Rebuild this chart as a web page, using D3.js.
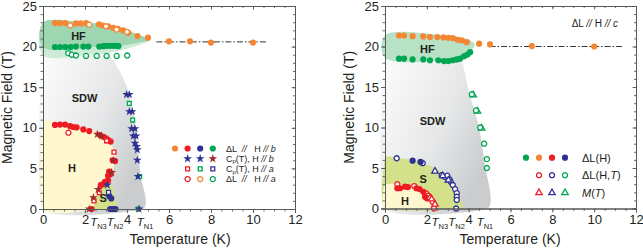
<!DOCTYPE html>
<html>
<head>
<meta charset="utf-8">
<script src="https://cdn.jsdelivr.net/npm/d3@7"></script>
<style>
body { margin: 0; background: #fff; }
text { font-family: "Liberation Sans", Arial, sans-serif; fill: #231f20; }
</style>
</head>
<body>
<svg id="chart" width="643" height="250"></svg>
<script>
'use strict';

// ---------- data: panel (a) H // b and H // a ----------
var xTicks = [0, 2, 4, 6, 8, 10, 12];
var yTicks = [0, 5, 10, 15, 20, 25];

var aOrangeFilled = [[0.57,22.9],[0.81,22.9],[1.06,22.9],[1.57,22.85],[1.8,22.85],[2.05,22.9],[2.67,22.75],[2.86,22.6],[3.1,22.5],[3.35,22.3],[3.57,22.2],[3.82,22.0],[4.06,21.7],[4.5,21.3],[5.0,21.1],[6.0,20.65],[7.0,20.65],[8.0,20.5],[10.0,20.5]];
var aOrangeOpen = [[1.3,22.6],[2.2,22.7],[3.0,22.5],[3.5,22.1],[4.0,21.8]];
var aGreenFilled = [[0.57,19.95],[0.81,19.95],[1.06,19.95],[1.32,19.95],[1.57,20.0],[1.92,20.0],[2.16,20.0],[2.68,20.0],[2.87,20.05],[3.03,20.1],[3.19,20.1],[3.35,20.1],[3.51,20.1],[3.59,20.05]];
var aGreenOpen = [[1.2,19.2],[1.37,19.0],[1.57,18.9],[2.05,18.85],[2.56,18.85],[3.03,18.85],[3.51,18.85],[4.01,18.9]];
var aRedFilled = [[0.57,10.35],[0.81,10.4],[1.05,10.4],[1.29,10.2],[1.44,10.1],[1.6,10.05],[1.92,9.8],[2.2,9.6],[2.71,9.1],[2.87,8.9],[3.0,8.7],[3.11,8.5],[3.22,8.3],[3.32,6.0],[3.43,5.9],[3.15,4.6],[3.22,4.3],[3.1,4.1],[3.1,3.5],[2.95,3.35],[2.85,3.05],[2.75,2.95],[2.32,0]];
var aRedOpen = [[1.21,9.4]];
var aRedStar = [[2.59,9.2],[2.79,9.0],[3.35,6.0],[3.27,4.5],[2.63,2.4],[2.4,1.4],[2.2,0]];
var aRedSquare = [[3.03,8.4],[3.38,7.0],[2.68,2.0],[2.43,1.0]];
var aBlueStar = [[3.98,14.1],[4.11,14.1],[4.11,12.0],[4.25,12.0],[4.22,9.9],[4.38,9.9],[4.3,9.0],[4.43,9.0],[4.38,8.1],[4.46,7.7],[4.49,7.3],[4.49,6.0],[4.52,4.0],[4.57,0],[3.06,2.95]];
var aBlueFilled = [[3.15,1.6],[3.25,1.3],[3.2,0],[3.35,0],[3.45,0]];
var aBlueSquare = [[3.12,2.05]];
var aGreenSquare = [[4.11,13.0],[4.27,10.95],[4.6,4.0],[4.54,0]];
var aDashT = [5.4, 10.7], aDashH = 20.58;

// regions of panel (a)
var aSDW = [[0,19],[1.5,18.9],[2.6,18.9],[3.2,18.8],[3.65,17],[4.0,15],[4.3,12],[4.5,8],[4.65,4],[4.75,0],[0,0]];
var aHF = [[0,22.95],[2,22.95],[3,22.75],[3.8,22.2],[4.5,21.5],[5.1,20.85],[4.6,20.2],[3.8,19.6],[3,19.15],[2,18.95],[0,18.95]];
var aHFdark = [[0,22.95],[2,22.95],[3,22.75],[3.8,22.2],[4.5,21.5],[5.1,20.85],[4.4,20.4],[3.6,20.05],[2.5,19.95],[0,19.95]];
var aH = [[0,10.45],[1,10.45],[2,10.05],[2.7,9.25],[3.15,8.4],[3.4,7],[3.4,5.5],[3.2,4],[2.9,3],[2.6,1.5],[2.4,0],[0,0]];
var aS = [[2.4,0],[2.6,1.5],[2.9,3],[3.15,3.1],[3.35,2.5],[3.45,1.2],[3.5,0]];

// ---------- data: panel (b) H // c ----------
var cOrangeFilled = [[0.67,21.36],[0.91,21.36],[1.32,21.28],[1.83,21.24],[2.15,21.16],[2.5,21.16],[2.79,21.12],[3.03,21.08],[3.24,21.04],[3.46,20.83],[3.67,20.75],[3.91,20.54],[4.5,20.35],[5.02,20.26],[7.02,20.05],[10.0,20.0]];
var cGreenFilled = [[0.67,18.5],[0.91,18.5],[1.32,18.4],[1.83,18.4],[2.15,18.3],[2.55,18.3],[2.82,18.2],[3.03,18.2],[3.24,18.3],[3.43,18.4],[3.59,18.5],[3.78,18.8],[3.94,19.0],[4.07,19.3]];
var cGreenOpen = [[4.15,14.1],[4.35,12.1],[4.55,10.0],[4.74,8.0],[4.87,6.1],[4.87,5.0]];
var cGreenTri = [[4.22,14.0],[4.42,12.0],[4.62,9.9]];
var cBlueFilled = [[1.32,5.9],[1.7,5.75]];
var cBlueOpen = [[0.56,6.2],[1.8,5.6],[2.71,4.1],[2.87,3.9],[2.98,4.05],[3.08,3.6],[3.14,3.3],[3.24,2.9],[3.35,2.4],[3.43,1.9],[3.43,1.45],[3.43,1.05],[3.4,0]];
var cBlueTri = [[2.39,4.6],[2.76,4.05],[3.03,3.5]];
var cRedFilled = [[0.59,2.5],[0.72,2.5],[0.96,2.7],[1.1,2.65],[1.5,2.5],[1.65,2.4],[1.83,2.07],[1.91,1.45],[2.0,1.26]];
var cRedOpen = [[0.59,3.0],[1.4,2.77],[1.96,1.87],[2.07,1.58],[2.28,0.84],[2.34,0]];
var cRedTri = [[2.15,1.33],[2.23,1.17],[2.39,0.52]];
var cDashT = [5.0, 11.4], cDashH = 20.0;

var cSDW = [[0,18.4],[2,18.3],[3.3,18.3],[3.7,18.0],[4.05,14],[4.5,10],[4.8,5],[4.9,0],[0,0]];
var cHF = [[0,21.4],[3,21.3],[3.8,21.0],[4.3,20.25],[3.9,19.1],[3.3,18.55],[0,18.6]];
var cS = [[0,6.2],[0.6,6.25],[1.5,5.95],[2.3,5.1],[2.9,4.2],[3.3,3.0],[3.5,1.8],[3.6,0],[0,0]];
var cH = [[0,2.95],[1,2.95],[1.6,2.6],[2.0,1.9],[2.3,1.0],[2.4,0],[0,0]];

var col = {orange: '#f58634', red: '#ed1c24', blue: '#2e3192', green: '#00a651', darkred: '#a3262a'};
var FONT = '"Liberation Sans", Arial, sans-serif';

var svg = d3.select('#chart');
var defs = svg.append('defs');
var grad = defs.append('linearGradient').attr('id', 'gray')
  .attr('x1', 0.05).attr('y1', 0.0).attr('x2', 1).attr('y2', 0.6);
grad.append('stop').attr('offset', '0%').attr('stop-color', '#fcfcfc');
grad.append('stop').attr('offset', '60%').attr('stop-color', '#e6e7e8');
grad.append('stop').attr('offset', '100%').attr('stop-color', '#cbcccd');

function makePanel(x0, x1, y0, y1) {
  var x = d3.scaleLinear().domain([0, 12]).range([x0, x1]);
  var y = d3.scaleLinear().domain([0, 25]).range([y0, y1]);
  var g = svg.append('g');
  return {x: x, y: y, g: g};
}

function region(p, pts, fill, curve) {
  var line = d3.line().x(function(d) { return p.x(d[0]); }).y(function(d) { return p.y(d[1]); })
    .curve(curve || d3.curveCatmullRomClosed.alpha(0.5));
  p.g.append('path').attr('d', line(pts)).attr('fill', fill).attr('stroke', 'none');
}

function marks(p, pts, shape, color, open) {
  var sel = p.g.append('g').selectAll('path').data(pts).enter().append('path')
    .attr('transform', function(d) { return 'translate(' + p.x(d[0]) + ',' + p.y(d[1]) + ')'; });
  drawShape(sel, shape, color, open);
}

function drawShape(sel, shape, color, open) {
  var sym = {
    circle: d3.symbol().type(d3.symbolCircle).size(open ? 20 : 30),
    star: d3.symbol().type(d3.symbolStar).size(24),
    square: d3.symbol().type(d3.symbolSquare).size(15),
    tri: d3.symbol().type(d3.symbolTriangle).size(18)
  }[shape];
  sel.attr('d', sym)
    .attr('fill', open ? '#fff' : color)
    .attr('stroke', open ? color : 'none')
    .attr('stroke-width', open ? 1.3 : 0);
}

function dashLine(p, ts, h) {
  p.g.append('line')
    .attr('x1', p.x(ts[0])).attr('x2', p.x(ts[1]))
    .attr('y1', p.y(h)).attr('y2', p.y(h))
    .attr('stroke', '#333').attr('stroke-width', 1)
    .attr('stroke-dasharray', '6,2,1.5,2');
}

function axes(p, labelX, titleX) {
  var x = p.x, y = p.y, g = p.g;
  var minorX = d3.range(0, 12.01, 0.5), minorY = d3.range(0, 25.01, 1);
  var bottom = g.append('g').attr('transform', 'translate(0,' + y(0) + ')');
  bottom.call(d3.axisBottom(x).tickValues(minorX).tickSize(2.5).tickFormat(''));
  bottom.append('g').call(d3.axisBottom(x).tickValues(xTicks).tickSize(4).tickPadding(2).tickFormat(d3.format('d')));
  var left = g.append('g').attr('transform', 'translate(' + x(0) + ',0)');
  left.call(d3.axisLeft(y).tickValues(minorY).tickSize(2.5).tickFormat(''));
  left.append('g').call(d3.axisLeft(y).tickValues(yTicks).tickSize(4).tickPadding(2).tickFormat(d3.format('d')));
  var top = g.append('g').attr('transform', 'translate(0,' + y(25) + ')');
  top.call(d3.axisTop(x).tickValues(minorX).tickSize(-2).tickFormat(''));
  top.append('g').call(d3.axisTop(x).tickValues(xTicks).tickSize(-3.5).tickFormat(''));
  var right = g.append('g').attr('transform', 'translate(' + x(12) + ',0)');
  right.call(d3.axisRight(y).tickValues(minorY).tickSize(-2).tickFormat(''));
  right.append('g').call(d3.axisRight(y).tickValues(yTicks).tickSize(-3.5).tickFormat(''));

  g.selectAll('.domain').attr('stroke', '#58595b').attr('stroke-width', 1);
  g.selectAll('.tick line').attr('stroke', '#58595b').attr('stroke-width', 0.9);
  g.selectAll('.tick text').attr('font-size', 13).attr('fill', '#231f20').attr('font-family', FONT);

  g.append('text').attr('x', titleX).attr('y', 244).attr('text-anchor', 'middle')
    .attr('font-size', 14).text('Temperature (K)');
  g.append('text').attr('transform', 'translate(' + labelX + ',' + ((y(0) + y(25)) / 2) + ') rotate(-90)')
    .attr('text-anchor', 'middle').attr('font-size', 14).text('Magnetic Field (T)');
}

function tn(p, t, sub) {
  var tx = p.g.append('text').attr('x', p.x(t)).attr('y', 226).attr('text-anchor', 'middle').attr('font-size', 11.5);
  tx.append('tspan').attr('font-style', 'italic').text('T');
  tx.append('tspan').attr('font-size', 7.5).attr('dy', 2.5).text(sub);
}

function label(p, t, h, s) {
  p.g.append('text').attr('x', p.x(t)).attr('y', p.y(h)).attr('text-anchor', 'middle')
    .attr('dy', '0.36em').attr('font-size', 11).attr('font-weight', 'bold').attr('fill', '#333').text(s);
}

// ---------- panel (a) ----------
var pa = makePanel(43, 295, 209, 6);
region(pa, aSDW, 'url(#gray)', d3.curveCardinalClosed.tension(0.5));
region(pa, aHF, '#cdebd6');
region(pa, aHFdark, '#9fd6b2');
region(pa, aH, '#fff8cf', d3.curveCardinalClosed.tension(0.4));
region(pa, aS, '#d3e18a', d3.curveCardinalClosed.tension(0.6));
label(pa, 1.69, 21.3, 'HF');
label(pa, 1.98, 13.7, 'SDW');
label(pa, 1.38, 5.0, 'H');
label(pa, 2.86, 1.35, 'S');
dashLine(pa, aDashT, aDashH);
marks(pa, aGreenOpen, 'circle', col.green, true);
marks(pa, aGreenFilled, 'circle', col.green, false);
marks(pa, aOrangeFilled, 'circle', col.orange, false);
marks(pa, aOrangeOpen, 'circle', col.orange, true);
marks(pa, aRedFilled, 'circle', col.red, false);
marks(pa, aRedOpen, 'circle', col.red, true);
marks(pa, aRedSquare, 'square', col.red, true);
marks(pa, aRedStar, 'star', col.darkred, false);
marks(pa, aGreenSquare, 'square', col.green, true);
marks(pa, aBlueFilled, 'circle', col.blue, false);
marks(pa, aBlueSquare, 'square', col.blue, true);
marks(pa, aBlueStar, 'star', col.blue, false);
axes(pa, 12, 180);
tn(pa, 2.64, 'N3'); tn(pa, 3.43, 'N2'); tn(pa, 4.86, 'N1');

// legend (a)
var legA = [
  {items: [['circle', col.orange, false], ['circle', col.red, false], ['circle', col.blue, false], ['circle', col.green, false]], kind: 'dl', axis: 'b'},
  {items: [null, ['star', col.blue, false], ['star', col.blue, false], ['star', col.darkred, false]], kind: 'cp', axis: 'b'},
  {items: [null, ['square', col.red, true], ['square', col.green, true], ['square', col.blue, true]], kind: 'cp', axis: 'a'},
  {items: [null, ['circle', col.red, true], ['circle', col.orange, true], ['circle', col.green, true]], kind: 'dl', axis: 'a'}
];
legA.forEach(function(row, i) {
  var yy = 148.5 + i * 10.2;
  row.items.forEach(function(it, j) {
    if (!it) return;
    var s = pa.g.append('path').attr('transform', 'translate(' + (175 + j * 12.6) + ',' + yy + ')');
    drawShape(s, it[0], it[1], it[2]);
  });
  var t = pa.g.append('text').attr('x', 226).attr('y', yy).attr('dy', '0.35em').attr('font-size', 9)
    .attr('xml:space', 'preserve');
  if (row.kind === 'dl') {
    t.append('tspan').text('ΔL  ');
    t.append('tspan').attr('font-style', 'italic').text('//');
    t.append('tspan').text('   H ');
  } else {
    t.append('tspan').text('C');
    t.append('tspan').attr('font-size', 6).attr('dy', 1.5).text('p');
    t.append('tspan').attr('dy', -1.5).text('(T), H ');
  }
  t.append('tspan').attr('font-style', 'italic').text('// ' + row.axis);
});

// ---------- panel (b) ----------
var pc = makePanel(385, 636, 208.5, 6);
region(pc, cSDW, 'url(#gray)', d3.curveCardinalClosed.tension(0.5));
region(pc, cHF, '#b8e2c6');
region(pc, cS, '#d3e18a', d3.curveCardinalClosed.tension(0.5));
region(pc, cH, '#fff8cf', d3.curveCardinalClosed.tension(0.5));
label(pc, 2.03, 19.7, 'HF');
label(pc, 2.27, 10.8, 'SDW');
label(pc, 1.83, 3.6, 'S');
label(pc, 0.96, 0.95, 'H');
dashLine(pc, cDashT, cDashH);
marks(pc, cOrangeFilled, 'circle', col.orange, false);
marks(pc, cGreenFilled, 'circle', col.green, false);
marks(pc, cGreenTri, 'tri', col.green, true);
marks(pc, cGreenOpen, 'circle', col.green, true);
marks(pc, cBlueOpen, 'circle', col.blue, true);
marks(pc, cBlueTri, 'tri', col.blue, true);
marks(pc, cBlueFilled, 'circle', col.blue, false);
marks(pc, cRedOpen, 'circle', col.red, true);
marks(pc, cRedFilled, 'circle', col.red, false);
marks(pc, cRedTri, 'tri', col.red, true);
axes(pc, 354, 510);
tn(pc, 2.62, 'N3'); tn(pc, 3.42, 'N2'); tn(pc, 4.78, 'N1');

var tt = pc.g.append('text').attr('x', 618).attr('y', 23).attr('dy', '0.35em')
  .attr('text-anchor', 'end').attr('font-size', 10).attr('xml:space', 'preserve');
tt.append('tspan').text('ΔL ');
tt.append('tspan').attr('font-style', 'italic').text('//');
tt.append('tspan').text(' H ');
tt.append('tspan').attr('font-style', 'italic').text('// c');

// legend (b)
var legC = [
  {items: [['circle', col.green, false], ['circle', col.orange, false], ['circle', col.red, false], ['circle', col.blue, false]]},
  {items: [null, ['circle', col.red, true], ['circle', col.blue, true], ['circle', col.green, true]]},
  {items: [null, ['tri', col.red, true], ['tri', col.blue, true], ['tri', col.green, true]]}
];
legC.forEach(function(row, i) {
  var yy = 157.7 + i * 17.5;
  row.items.forEach(function(it, j) {
    if (!it) return;
    var s = pc.g.append('path').attr('transform', 'translate(' + (526 + j * 13) + ',' + yy + ')');
    drawShape(s, it[0], it[1], it[2]);
  });
  var t = pc.g.append('text').attr('x', 582).attr('y', yy).attr('dy', '0.35em').attr('font-size', 11);
  if (i === 0) t.text('ΔL(H)');
  else if (i === 1) {
    t.append('tspan').text('ΔL(H,');
    t.append('tspan').attr('font-style', 'italic').text('T');
    t.append('tspan').text(')');
  } else {
    t.append('tspan').attr('font-style', 'italic').text('M');
    t.append('tspan').text('(');
    t.append('tspan').attr('font-style', 'italic').text('T');
    t.append('tspan').text(')');
  }
});
</script>
</body>
</html>
